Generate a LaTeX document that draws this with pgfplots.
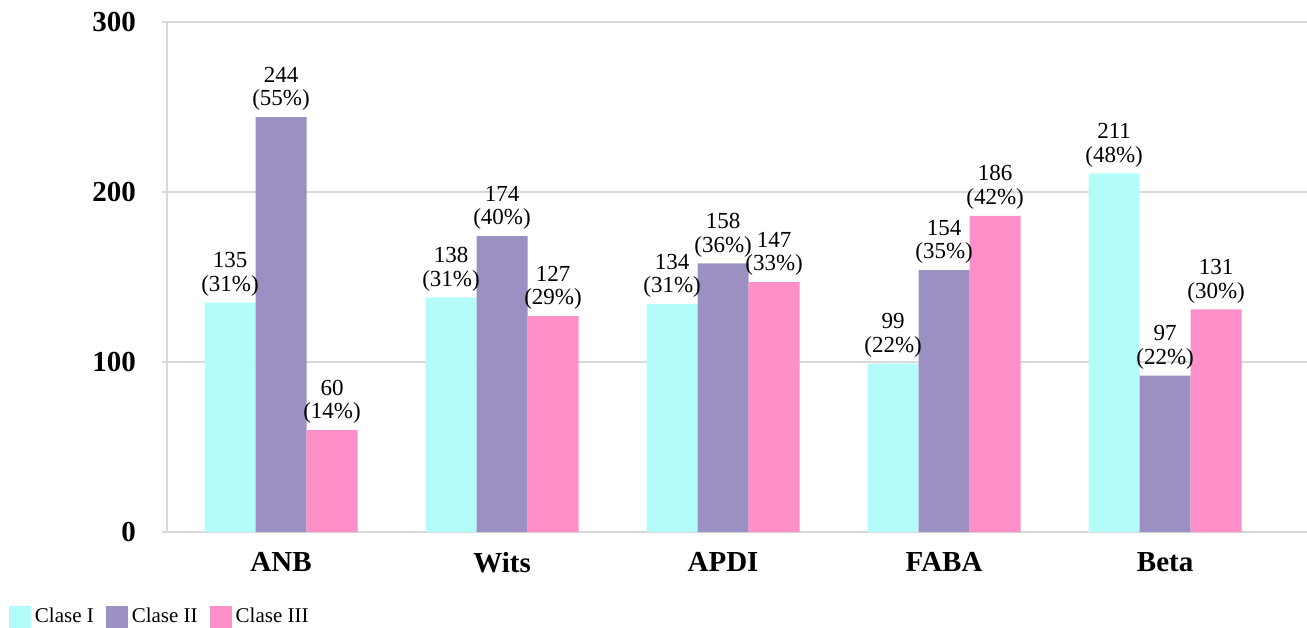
\documentclass[border=0pt]{standalone}
\usepackage{fontspec}
\setmainfont{Liberation Serif}
\usepackage{pgfplots}
\pgfplotsset{compat=1.18}
\usetikzlibrary{calc}
\definecolor{cI}{RGB}{180,252,250}
\definecolor{cII}{RGB}{156,144,194}
\definecolor{cIII}{RGB}{255,143,200}
\definecolor{gridc}{RGB}{217,217,217}
\begin{document}
\begin{tikzpicture}
\begin{axis}[
  name=ax,
  scale only axis,
  width=570pt, height=255pt,
  xmin=-0.516, xmax=4.642,
  ymin=0, ymax=300,
  ybar=0pt, bar width=25.5pt,
  axis x line=bottom, axis y line=left,
  axis line style={gridc, line width=0.8pt, -},
  xtick={0,1,2,3,4},
  xticklabels={ANB,Wits,APDI,FABA,Beta},
  x tick style={draw=none},
  ytick={0,100,200,300},
  y tick style={gridc, line width=0.8pt},
  tickwidth=5pt,
  ymajorgrids,
  grid style={gridc, line width=0.8pt},
  tick label style={font=\fontsize{14.5}{16}\selectfont\bfseries},
  /pgf/number format/assume math mode=true,
  yticklabel style={xshift=-9.5pt},
  xticklabel style={yshift=-4pt},
  nodes near coords,
  point meta=explicit symbolic,
  every node near coord/.append style={align=center, font=\fontsize{11.5}{11.8}\selectfont, black, inner sep=1.5pt, yshift=1.5pt},
  legend style={at={(-0.139,-0.14)}, anchor=north west, draw=none, fill=none,
    legend columns=-1, font=\fontsize{10.5}{12}\selectfont, inner sep=0pt,
    /tikz/every even column/.append style={column sep=4pt}},
  legend image code/.code={\fill[#1] (0pt,-5.5pt) rectangle (11pt,5.5pt);},
]
\addplot[fill=cI, draw=none] coordinates {
  (0,135) [135\\(31\%)]
  (1,138) [138\\(31\%)]
  (2,134) [134\\(31\%)]
  (3,99)  [99\\(22\%)]
  (4,211) [211\\(48\%)]
};
\addplot[fill=cII, draw=none] coordinates {
  (0,244) [244\\(55\%)]
  (1,174) [174\\(40\%)]
  (2,158) [158\\(36\%)]
  (3,154) [154\\(35\%)]
  (4,92)  [97\\(22\%)]
};
\addplot[fill=cIII, draw=none] coordinates {
  (0,60)  [60\\(14\%)]
  (1,127) [127\\(29\%)]
  (2,147) [147\\(33\%)]
  (3,186) [186\\(42\%)]
  (4,131) [131\\(30\%)]
};
\legend{Clase I, Clase II, Clase III}
\end{axis}
\pgfresetboundingbox
\useasboundingbox ($(ax.south west)+(-83.5pt,-47.5pt)$) rectangle ($(ax.north east)+(0pt,11pt)$);
\end{tikzpicture}
\end{document}
